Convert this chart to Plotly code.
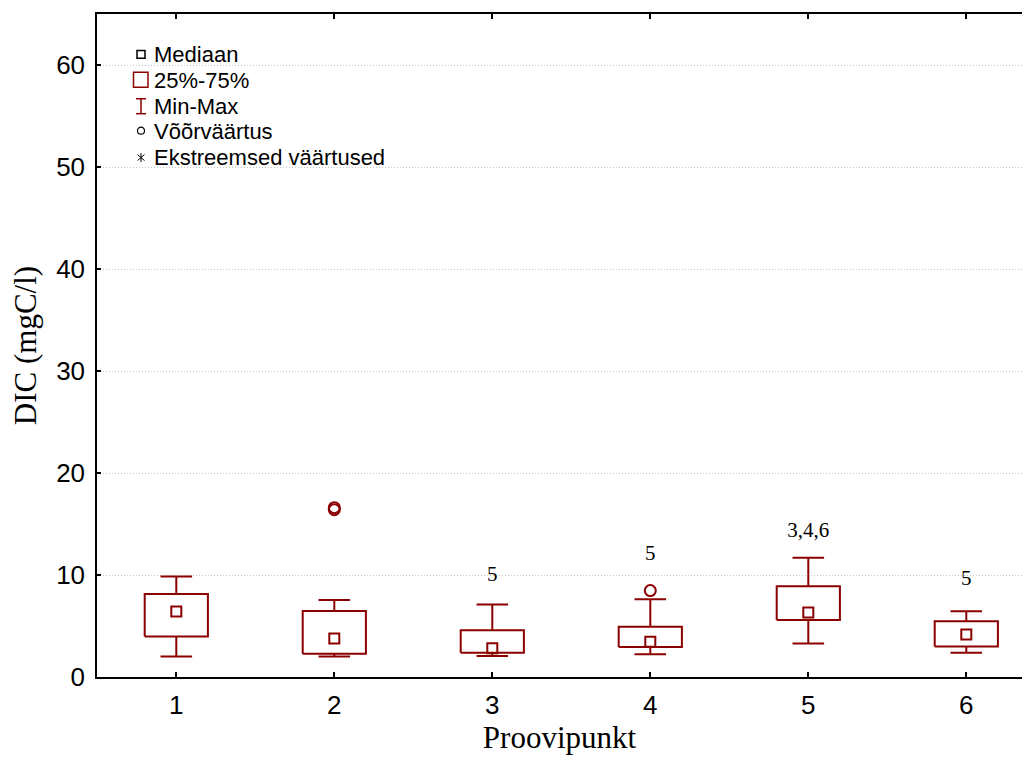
import plotly.graph_objects as go

# ---- data ----
categories = [1, 2, 3, 4, 5, 6]
tick_labels = ["1", "2", "3", "4", "5", "6"]
medians = [6.42, 3.78, 2.83, 3.45, 6.32, 4.17]
q1 = [3.97, 2.28, 2.38, 2.93, 5.60, 3.00]
q3 = [8.14, 6.48, 4.59, 4.92, 8.89, 5.47]
mins = [2.02, 2.02, 2.05, 2.22, 3.29, 2.38]
maxs = [9.86, 7.56, 7.10, 7.62, 11.69, 6.45]
outlier_x = [2, 2, 4]
outlier_y = [16.4, 16.6, 8.47]
label_x = [3, 4, 5, 6]
label_y = [9.9, 12.0, 14.26, 9.5]
label_text = ["5", "5", "3,4,6", "5"]
legend_labels = ["Mediaan", "25%-75%", "Min-Max", "Võõrväärtus", "Ekstreemsed väärtused"]

RED = "#8B0000"
BOX_HALF = 0.2
CAP_HALF = 0.1

# ---- build box / whisker paths from the data ----
bx, by = [], []
for c, a, b in zip(categories, q1, q3):
    bx += [c - BOX_HALF, c + BOX_HALF, c + BOX_HALF, c - BOX_HALF, c - BOX_HALF, None]
    by += [a, a, b, b, a, None]

wx, wy = [], []
for c, lo, hi, a, b in zip(categories, mins, maxs, q1, q3):
    wx += [c, c, None, c, c, None,
           c - CAP_HALF, c + CAP_HALF, None, c - CAP_HALF, c + CAP_HALF, None]
    wy += [b, hi, None, a, lo, None, hi, hi, None, lo, lo, None]

fig = go.Figure()
fig.add_trace(go.Scatter(x=wx, y=wy, mode="lines", line=dict(color=RED, width=2),
                         showlegend=False, hoverinfo="skip"))
fig.add_trace(go.Scatter(x=bx, y=by, mode="lines", line=dict(color=RED, width=2),
                         fill="toself", fillcolor="white",
                         showlegend=False, hoverinfo="skip"))
fig.add_trace(go.Scatter(x=categories, y=medians, mode="markers",
                         marker=dict(symbol="square-open", size=10, color=RED,
                                     line=dict(width=2, color=RED)),
                         showlegend=False))
fig.add_trace(go.Scatter(x=outlier_x, y=outlier_y, mode="markers",
                         marker=dict(symbol="circle-open", size=11, color=RED,
                                     line=dict(width=2, color=RED)),
                         showlegend=False))
fig.add_trace(go.Scatter(x=label_x, y=label_y, mode="text", text=label_text,
                         textposition="middle center",
                         textfont=dict(family="Liberation Serif", size=21, color="black"),
                         showlegend=False, hoverinfo="skip"))

# ---- page geometry (the page body adds an 8px margin all round) ----
OFF = 8
WIN_W, WIN_H = 1034, 764
FIG_W = WIN_W - 2 * OFF
FIG_H = WIN_H - 2 * OFF
R_MARGIN = 4
L, R, T, B = 97, OFF + FIG_W - R_MARGIN, 12, 677   # plot area in window pixels
CAT1_PX, CAT_STEP = 176.3, 158.0


def px(x):
    return (x - L) / (R - L)


def py(y):
    return (B - y) / (B - T)


shapes = []
lw = 1.5
# Mediaan: small black square
shapes.append(dict(type="rect", xref="paper", yref="paper",
                   x0=px(137), x1=px(145), y0=py(48.5), y1=py(56.5),
                   line=dict(color="black", width=lw)))
# 25%-75%: red rectangle
shapes.append(dict(type="rect", xref="paper", yref="paper",
                   x0=px(133.5), x1=px(148), y0=py(70.5), y1=py(85.5),
                   line=dict(color=RED, width=lw)))
# Min-Max: I-beam
for (x0, y0, x1, y1) in [(141, 97, 141, 112), (136, 97, 146, 97), (136, 112, 146, 112)]:
    shapes.append(dict(type="line", xref="paper", yref="paper",
                       x0=px(x0), x1=px(x1), y0=py(y0), y1=py(y1),
                       line=dict(color=RED, width=lw)))
# Võõrväärtus: small black circle
shapes.append(dict(type="circle", xref="paper", yref="paper",
                   x0=px(137.5), x1=px(144.5), y0=py(125.5), y1=py(132.5),
                   line=dict(color="black", width=1.2)))
# Ekstreemsed väärtused: asterisk
for (x0, y0, x1, y1) in [(141, 151.5, 141, 160.5), (137.5, 153, 144.5, 159), (137.5, 159, 144.5, 153)]:
    shapes.append(dict(type="line", xref="paper", yref="paper",
                       x0=px(x0), x1=px(x1), y0=py(y0), y1=py(y1),
                       line=dict(color="black", width=1)))

annotations = []
for lab, yc in zip(legend_labels, [52.5, 78.5, 104.5, 129.5, 155.5]):
    annotations.append(dict(text=lab, xref="paper", yref="paper",
                            x=px(152), y=py(yc), xanchor="left", yanchor="middle",
                            showarrow=False,
                            font=dict(family="Liberation Sans", size=22, color="black")))

x_lo = 1 - (CAT1_PX - L) / CAT_STEP
x_hi = 1 + (R - CAT1_PX) / CAT_STEP

fig.update_layout(
    width=FIG_W, height=FIG_H,
    margin=dict(l=L - OFF, r=R_MARGIN, t=T - OFF, b=(OFF + FIG_H) - B),
    paper_bgcolor="white", plot_bgcolor="white",
    shapes=shapes, annotations=annotations,
    showlegend=False,
    xaxis=dict(
        range=[x_lo, x_hi],
        tickmode="array", tickvals=categories, ticktext=tick_labels,
        ticks="inside", ticklen=5, tickwidth=1.5, tickcolor="black",
        showline=True, linecolor="black", linewidth=1.5, mirror="ticks",
        showgrid=False, zeroline=False,
        ticklabelstandoff=4,
        tickfont=dict(family="Liberation Sans", size=26, color="black"),
        title=dict(text="Proovipunkt", standoff=6,
                   font=dict(family="Liberation Serif", size=31, color="black")),
    ),
    yaxis=dict(
        range=[0, 65],
        tickmode="array", tickvals=[0, 10, 20, 30, 40, 50, 60],
        ticks="inside", ticklen=4, tickwidth=1.5, tickcolor="black",
        showline=True, linecolor="black", linewidth=1.5, mirror=False,
        showgrid=True, gridcolor="#c4c4c4", griddash="1px,2px", gridwidth=1,
        zeroline=False,
        ticklabelstandoff=5,
        tickfont=dict(family="Liberation Sans", size=26, color="black"),
        title=dict(text="DIC (mgC/l)", standoff=12,
                   font=dict(family="Liberation Serif", size=31, color="black")),
    ),
)

fig.write_html("out.html")
